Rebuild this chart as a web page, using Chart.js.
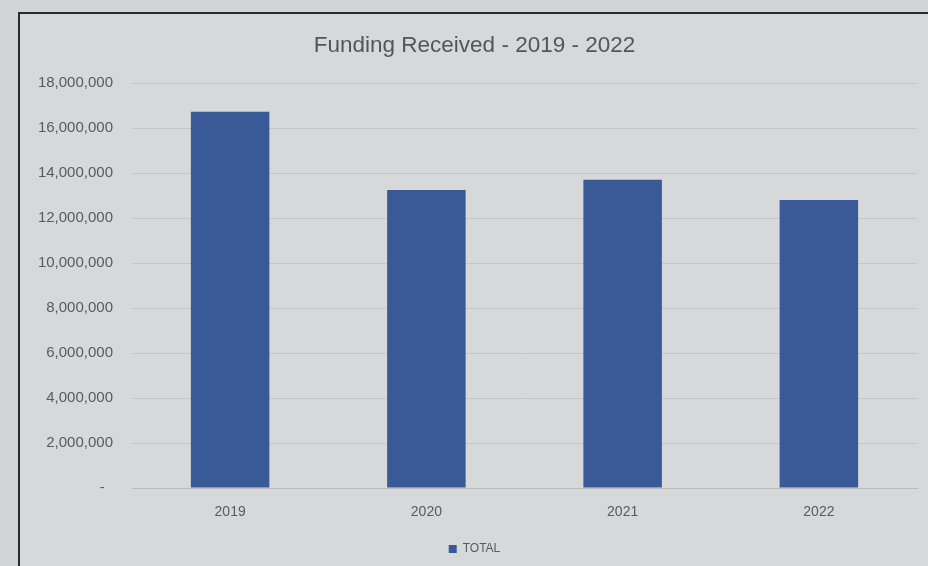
<!DOCTYPE html>
<html>
<head>
<meta charset="utf-8">
<script src="https://cdn.jsdelivr.net/npm/chart.js@4.4.0/dist/chart.umd.min.js"></script>
<style>
  html, body { margin: 0; padding: 0; background: #d2d4d6; }
  body { width: 928px; height: 566px; position: relative; overflow: hidden; }
  .frame {
    position: absolute; left: 18px; top: 12px; width: 930px; height: 570px;
    border-left: 2px solid #2b2b2b; border-top: 2px solid #2b2b2b;
    background: #d6d8da;
  }
  .wrap { position: absolute; left: 0; top: 0; width: 928px; height: 566px; }
</style>
</head>
<body>
<div class="frame"></div>
<div class="wrap"><canvas id="chart"></canvas></div>
<script>
  const years = ["2019", "2020", "2021", "2022"];
  const totals = [16720000, 13250000, 13700000, 12800000];
  const yTicks = [0, 2000000, 4000000, 6000000, 8000000, 10000000, 12000000, 14000000, 16000000, 18000000];

  const textColor = "#5a5a5a";
  const fontName = "'Liberation Sans', Arial, sans-serif";

  const ctx = document.getElementById("chart").getContext("2d");
  new Chart(ctx, {
    type: "bar",
    data: {
      labels: years,
      datasets: [
        {
          label: "TOTAL",
          data: totals,
          backgroundColor: "#3a5a97",
          barPercentage: 0.4,
          categoryPercentage: 1.0,
        },
      ],
    },
    options: {
      responsive: true,
      maintainAspectRatio: false,
      animation: false,
      layout: { padding: { left: 32, right: 11, top: 0, bottom: 1 } },
      plugins: {
        title: {
          display: true,
          text: "Funding Received - 2019 - 2022",
          color: "#555555",
          font: { family: fontName, size: 22.5, weight: "normal" },
          padding: { top: 32.5, bottom: 23.5 },
        },
        legend: {
          position: "bottom",
          labels: {
            color: textColor,
            font: { family: fontName, size: 12 },
            boxWidth: 8,
            boxHeight: 8,
            padding: 6,
          },
        },
        tooltip: { enabled: false },
      },
      scales: {
        x: {
          afterFit: (axis) => {
            axis.height = 49;
          },
          grid: { display: false, drawTicks: false },
          border: { display: true, color: "#b8babc" },
          ticks: { color: textColor, font: { family: fontName, size: 14 }, padding: 16 },
        },
        y: {
          min: 0,
          max: 18000000,
          afterBuildTicks: (axis) => {
            axis.ticks = yTicks.map((v) => ({ value: v }));
          },
          afterFit: (axis) => {
            axis.width = 100;
          },
          grid: { color: "#c3c5c7", drawTicks: false },
          border: { display: false },
          ticks: {
            color: textColor,
            font: { family: fontName, size: 15 },
            padding: 19,
            callback: (v) => (v === 0 ? "-  " : v.toLocaleString("en-US")),
          },
        },
      },
    },
  });
</script>
</body>
</html>
